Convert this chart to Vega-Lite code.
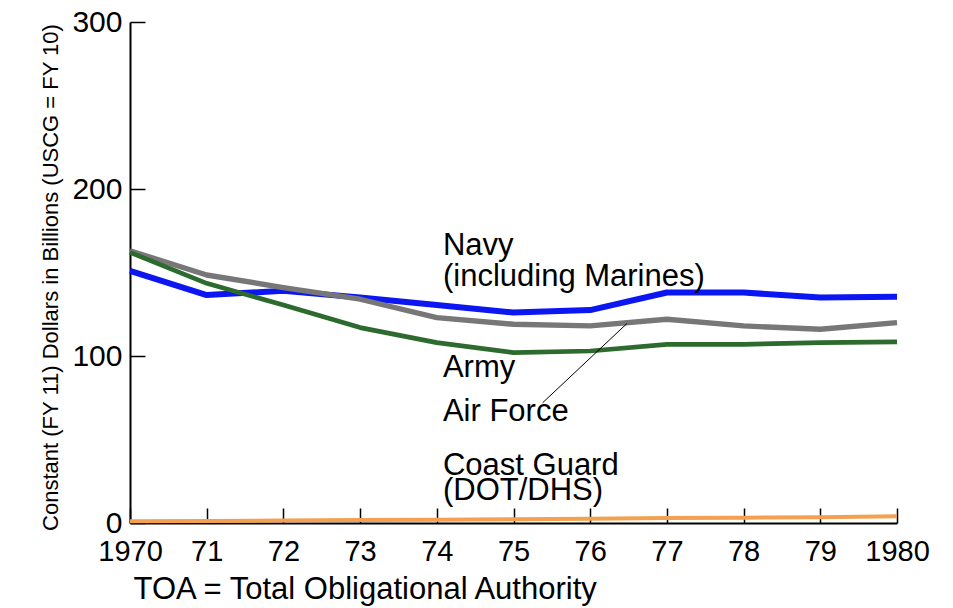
{
  "$schema": "https://vega.github.io/schema/vega-lite/v6.json",
  "width": 767,
  "height": 501,
  "autosize": {"type": "none"},
  "padding": {"left": 130, "top": 22, "right": 56, "bottom": 85},
  "background": "white",
  "config": {"view": {"stroke": null}, "font": "Liberation Sans"},
  "datasets": {
    "series": [
      {"service": "Navy", "year": 1970, "value": 151},
      {"service": "Navy", "year": 1971, "value": 136.5},
      {"service": "Navy", "year": 1972, "value": 139},
      {"service": "Navy", "year": 1973, "value": 135},
      {"service": "Navy", "year": 1974, "value": 130.5},
      {"service": "Navy", "year": 1975, "value": 126},
      {"service": "Navy", "year": 1976, "value": 127.5},
      {"service": "Navy", "year": 1977, "value": 138},
      {"service": "Navy", "year": 1978, "value": 138},
      {"service": "Navy", "year": 1979, "value": 135},
      {"service": "Navy", "year": 1980, "value": 135.5},
      {"service": "Air Force", "year": 1970, "value": 163},
      {"service": "Air Force", "year": 1971, "value": 148.5},
      {"service": "Air Force", "year": 1972, "value": 141},
      {"service": "Air Force", "year": 1973, "value": 134},
      {"service": "Air Force", "year": 1974, "value": 123},
      {"service": "Air Force", "year": 1975, "value": 119},
      {"service": "Air Force", "year": 1976, "value": 118},
      {"service": "Air Force", "year": 1977, "value": 122},
      {"service": "Air Force", "year": 1978, "value": 118},
      {"service": "Air Force", "year": 1979, "value": 116},
      {"service": "Air Force", "year": 1980, "value": 120},
      {"service": "Army", "year": 1970, "value": 162},
      {"service": "Army", "year": 1971, "value": 143.5},
      {"service": "Army", "year": 1972, "value": 130.5},
      {"service": "Army", "year": 1973, "value": 117},
      {"service": "Army", "year": 1974, "value": 108},
      {"service": "Army", "year": 1975, "value": 102},
      {"service": "Army", "year": 1976, "value": 103},
      {"service": "Army", "year": 1977, "value": 107},
      {"service": "Army", "year": 1978, "value": 107},
      {"service": "Army", "year": 1979, "value": 108},
      {"service": "Army", "year": 1980, "value": 108.5},
      {"service": "Coast Guard", "year": 1970, "value": 1},
      {"service": "Coast Guard", "year": 1971, "value": 1.2},
      {"service": "Coast Guard", "year": 1972, "value": 1.5},
      {"service": "Coast Guard", "year": 1973, "value": 1.8},
      {"service": "Coast Guard", "year": 1974, "value": 2},
      {"service": "Coast Guard", "year": 1975, "value": 2.3},
      {"service": "Coast Guard", "year": 1976, "value": 2.6},
      {"service": "Coast Guard", "year": 1977, "value": 3},
      {"service": "Coast Guard", "year": 1978, "value": 3.2},
      {"service": "Coast Guard", "year": 1979, "value": 3.5},
      {"service": "Coast Guard", "year": 1980, "value": 4}
    ],
    "labels": [
      {"year": 1974.08, "value": 165.9, "text": "Navy"},
      {"year": 1974.08, "value": 147.3, "text": "(including Marines)"},
      {"year": 1974.08, "value": 92.8, "text": "Army"},
      {"year": 1974.08, "value": 66.5, "text": "Air Force"},
      {"year": 1974.08, "value": 34.1, "text": "Coast Guard"},
      {"year": 1974.08, "value": 19.2, "text": "(DOT/DHS)"}
    ],
    "leader": [
      {"year": 1976.48, "value": 119.5, "year2": 1975.38, "value2": 72}
    ]
  },
  "layer": [
    {
      "data": {"name": "series"},
      "mark": {"type": "line", "strokeJoin": "round", "strokeCap": "butt"},
      "encoding": {
        "x": {
          "field": "year", "type": "quantitative",
          "scale": {"domain": [1970, 1980], "nice": false, "zero": false},
          "axis": {
            "values": [1970, 1971, 1972, 1973, 1974, 1975, 1976, 1977, 1978, 1979, 1980],
            "format": "d",
            "labelExpr": "(datum.value == 1970 || datum.value == 1980) ? datum.label : slice(datum.label, 2)",
            "title": "TOA = Total Obligational Authority",
            "titleX": 3, "titleY": 66, "titleAlign": "left", "titleBaseline": "middle",
            "titleFontSize": 31, "titleFontWeight": "normal", "titleColor": "black",
            "labelFontSize": 29, "labelColor": "black", "labelPadding": 43, "labelBaseline": "middle",
            "labelFlush": false, "labelOverlap": false,
            "tickSize": -15, "tickColor": "black", "tickWidth": 1.5,
            "domainColor": "black", "domainWidth": 2, "grid": false
          }
        },
        "y": {
          "field": "value", "type": "quantitative",
          "scale": {"domain": [0, 300], "nice": false},
          "axis": {
            "values": [0, 100, 200, 300],
            "title": "Constant (FY 11) Dollars in Billions (USCG = FY 10)",
            "titleX": -80, "titleY": 255, "titleAlign": "center", "titleBaseline": "middle", "titleAngle": -90,
            "titleFontSize": 22, "titleFontWeight": "normal", "titleColor": "black",
            "labelFontSize": 30, "labelColor": "black", "labelPadding": 23,
            "labelFlush": false, "labelOverlap": false,
            "tickSize": -15, "tickColor": "black", "tickWidth": 1.5,
            "domainColor": "black", "domainWidth": 2, "grid": false
          }
        },
        "color": {
          "field": "service", "type": "nominal",
          "scale": {"domain": ["Navy", "Air Force", "Army", "Coast Guard"], "range": ["#0b16f2", "#777777", "#2d6a2d", "#f4a04e"]},
          "legend": null
        },
        "strokeWidth": {
          "field": "service", "type": "nominal",
          "scale": {"domain": ["Navy", "Air Force", "Army", "Coast Guard"], "range": [6, 4, 3, 4]},
          "legend": null
        }
      }
    },
    {
      "data": {"name": "leader"},
      "mark": {"type": "rule", "color": "black", "strokeWidth": 1},
      "encoding": {
        "x": {"field": "year", "type": "quantitative"},
        "y": {"field": "value", "type": "quantitative"},
        "x2": {"field": "year2"},
        "y2": {"field": "value2"}
      }
    },
    {
      "data": {"name": "labels"},
      "mark": {"type": "text", "align": "left", "baseline": "middle", "fontSize": 31, "color": "black", "font": "Liberation Sans"},
      "encoding": {
        "x": {"field": "year", "type": "quantitative"},
        "y": {"field": "value", "type": "quantitative"},
        "text": {"field": "text", "type": "nominal"}
      }
    }
  ]
}
